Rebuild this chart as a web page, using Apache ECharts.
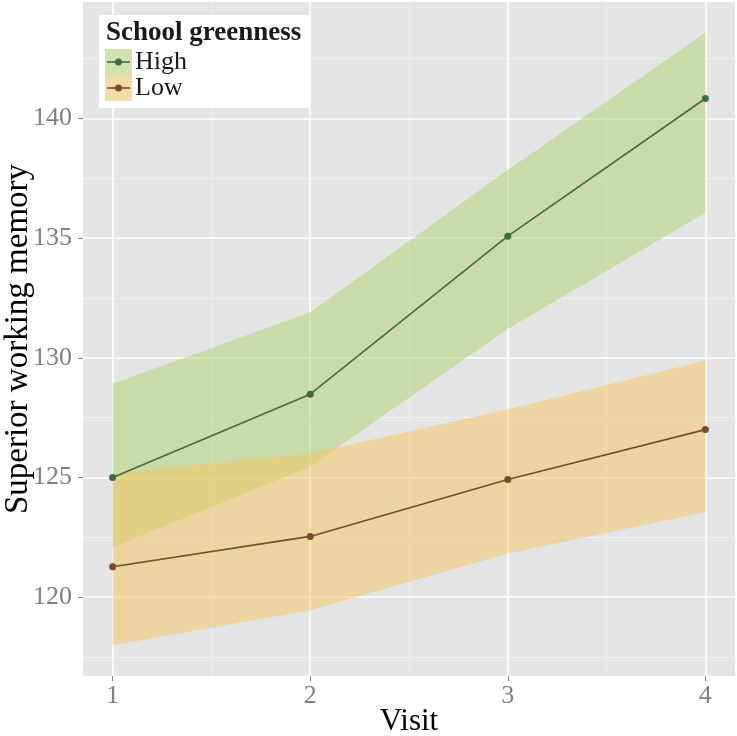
<!DOCTYPE html>
<html>
<head>
<meta charset="utf-8">
<script src="https://cdn.jsdelivr.net/npm/echarts@6/dist/echarts.min.js"></script>
<style>
html,body{margin:0;padding:0;background:#fff;}
#chart{width:737px;height:736px;}
</style>
</head>
<body>
<div id="chart"></div>
<script>
// ---- data ----
const visits = [1, 2, 3, 4];
const highMean  = [125.0, 128.48, 135.08, 140.83];
const highUpper = [128.92, 131.9, 137.84, 143.58];
const highLower = [122.09, 125.46, 131.2, 136.06];
const lowMean   = [121.27, 122.54, 124.92, 127.0];
const lowUpper  = [125.15, 126.0, 127.84, 129.89];
const lowLower  = [117.99, 119.46, 121.83, 123.55];
const xTicks = [1, 2, 3, 4];
const xMinor = [1.5, 2.5, 3.5];
const yTicks = [120, 125, 130, 135, 140];
const yMinor = [117.5, 122.5, 127.5, 132.5, 137.5, 142.5];
const legendTitle = 'School greenness';
const groupNames = ['High', 'Low'];

const SERIF = '"Liberation Serif", "DejaVu Serif", serif';
const greenFill = 'rgba(177,207,109,0.5)';
const orangeFill = 'rgba(243,197,93,0.5)';
const greenLine = '#3f6b40';
const brownLine = '#7a4a2f';
const tickGrey = '#7f7f7f';

function ribbon(name, upper, lower, fill) {
  return {
    type: 'custom',
    name: name,
    xAxisIndex: 0, yAxisIndex: 0,
    data: visits.map((v, i) => [v, lower[i], upper[i]]),
    encode: { x: 0, y: [1, 2] },
    silent: true,
    renderItem: function (params, api) {
      if (params.dataIndex !== 0) return null;
      const pts = [];
      for (let i = 0; i < visits.length; i++) pts.push(api.coord([visits[i], upper[i]]));
      for (let i = visits.length - 1; i >= 0; i--) pts.push(api.coord([visits[i], lower[i]]));
      return { type: 'polygon', shape: { points: pts }, style: { fill: fill } };
    }
  };
}

function lineSeries(name, vals, color) {
  return {
    type: 'line',
    name: name,
    xAxisIndex: 0, yAxisIndex: 0,
    data: visits.map((v, i) => [v, vals[i]]),
    symbol: 'circle',
    symbolSize: 7,
    showSymbol: true,
    lineStyle: { color: color, width: 1.6 },
    itemStyle: { color: color },
    silent: true,
    z: 5
  };
}

const xMin = 0.85, xMax = 4.15, yMin = 116.71, yMax = 144.86;

const chart = echarts.init(document.getElementById('chart'), null, { renderer: 'canvas' });
const option = {
  animation: false,
  backgroundColor: '#ffffff',
  grid: {
    left: 83, right: 2, top: 2, bottom: 60,
    containLabel: false, outerBoundsMode: 'none',
    show: true, backgroundColor: '#e5e5e5', borderWidth: 0
  },
  xAxis: [
    {
      type: 'value', min: xMin, max: xMax,
      name: 'Visit', nameLocation: 'middle', nameGap: 30, nameMoveOverlap: false,
      nameTextStyle: { fontFamily: SERIF, fontSize: 31, color: '#000', verticalAlign: 'top' },
      axisLine: { show: false },
      axisTick: { show: true, length: 5, customValues: xTicks, lineStyle: { color: tickGrey, width: 1 } },
      axisLabel: { customValues: xTicks, margin: 7, fontFamily: SERIF, fontSize: 26, color: tickGrey,
        formatter: v => String(v) },
      splitLine: { show: true, lineStyle: { color: '#ffffff', width: 1.7 } }
    },
    {
      type: 'value', min: xMin, max: xMax, gridIndex: 0, position: 'bottom',
      axisLine: { show: false },
      axisTick: { show: false, customValues: xMinor },
      axisLabel: { show: false, customValues: xMinor },
      splitLine: { show: true, lineStyle: { color: '#f2f2f2', width: 0.8 } }
    }
  ],
  yAxis: [
    {
      type: 'value', min: yMin, max: yMax,
      name: 'Superior working memory', nameLocation: 'middle', nameGap: 48, nameMoveOverlap: false,
      nameTextStyle: { fontFamily: SERIF, fontSize: 33, color: '#000' },
      axisLine: { show: false },
      axisTick: { show: true, length: 5, customValues: yTicks, lineStyle: { color: tickGrey, width: 1 } },
      axisLabel: { customValues: yTicks, margin: 11, fontFamily: SERIF, fontSize: 26, color: tickGrey,
        formatter: v => String(v) },
      splitLine: { show: true, lineStyle: { color: '#ffffff', width: 1.7 } }
    },
    {
      type: 'value', min: yMin, max: yMax, gridIndex: 0, position: 'left',
      axisLine: { show: false },
      axisTick: { show: false, customValues: yMinor },
      axisLabel: { show: false, customValues: yMinor },
      splitLine: { show: true, lineStyle: { color: '#f2f2f2', width: 0.8 } }
    }
  ],
  series: [
    ribbon(groupNames[0] + ' band', highUpper, highLower, greenFill),
    ribbon(groupNames[1] + ' band', lowUpper, lowLower, orangeFill),
    lineSeries(groupNames[0], highMean, greenLine),
    lineSeries(groupNames[1], lowMean, brownLine)
  ],
  graphic: [
    { type: 'rect', shape: { x: 99, y: 15, width: 211, height: 93 }, style: { fill: '#ffffff' }, z: 10 },
    { type: 'text', x: 106, y: 33.5, z: 11,
      style: { text: legendTitle, font: 'bold 27px ' + SERIF, fill: '#1a1a1a', verticalAlign: 'middle', align: 'left' } },
    { type: 'rect', shape: { x: 105, y: 49, width: 27, height: 26 }, style: { fill: '#f2f2f2' }, z: 10 },
    { type: 'rect', shape: { x: 105, y: 49, width: 27, height: 26 }, style: { fill: greenFill }, z: 11 },
    { type: 'rect', shape: { x: 105, y: 75, width: 27, height: 26 }, style: { fill: '#f2f2f2' }, z: 10 },
    { type: 'rect', shape: { x: 105, y: 75, width: 27, height: 26 }, style: { fill: orangeFill }, z: 11 },
    { type: 'line', shape: { x1: 107, y1: 62, x2: 130, y2: 62 }, style: { stroke: greenLine, lineWidth: 1.6 }, z: 12 },
    { type: 'circle', shape: { cx: 118.5, cy: 62, r: 3.5 }, style: { fill: greenLine }, z: 12 },
    { type: 'line', shape: { x1: 107, y1: 88, x2: 130, y2: 88 }, style: { stroke: brownLine, lineWidth: 1.6 }, z: 12 },
    { type: 'circle', shape: { cx: 118.5, cy: 88, r: 3.5 }, style: { fill: brownLine }, z: 12 },
    { type: 'text', x: 135, y: 62.6, z: 11,
      style: { text: groupNames[0], font: '26px ' + SERIF, fill: '#1a1a1a', verticalAlign: 'middle', align: 'left' } },
    { type: 'text', x: 135, y: 88.6, z: 11,
      style: { text: groupNames[1], font: '26px ' + SERIF, fill: '#1a1a1a', verticalAlign: 'middle', align: 'left' } }
  ]
};
chart.setOption(option);
</script>
</body>
</html>
